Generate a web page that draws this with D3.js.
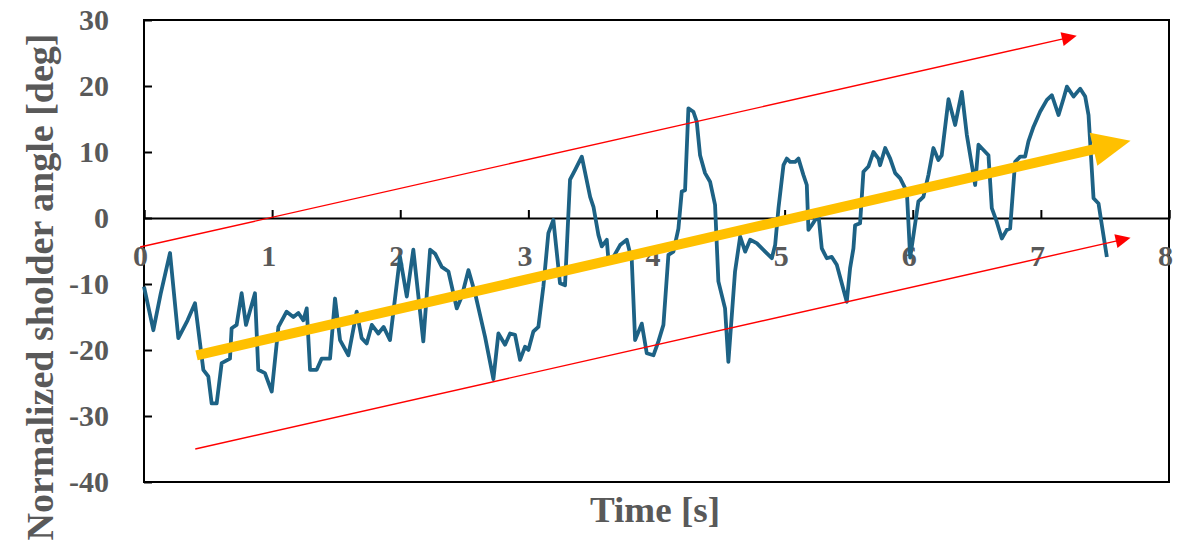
<!DOCTYPE html>
<html>
<head>
<meta charset="utf-8">
<script src="https://cdn.jsdelivr.net/npm/d3@7"></script>
<style>
  html, body { margin: 0; padding: 0; background: #ffffff; }
  svg { display: block; }
</style>
</head>
<body>
<svg id="chart" width="1183" height="545"></svg>
<script>
// ---- data ----
const timeS = [0.000,0.073,0.130,0.203,0.268,0.340,0.398,0.463,0.502,0.528,0.567,0.606,0.671,0.684,0.723,0.762,0.796,0.866,0.892,0.944,0.997,1.049,1.113,1.166,1.205,1.244,1.270,1.296,1.348,1.387,1.452,1.491,1.530,1.595,1.660,1.699,1.738,1.778,1.829,1.870,1.920,1.998,2.051,2.102,2.180,2.233,2.272,2.324,2.376,2.441,2.480,2.532,2.584,2.662,2.727,2.766,2.818,2.857,2.896,2.935,2.974,3.000,3.039,3.078,3.117,3.156,3.195,3.247,3.286,3.325,3.365,3.417,3.482,3.508,3.547,3.573,3.612,3.625,3.664,3.716,3.768,3.807,3.833,3.885,3.924,3.976,4.015,4.054,4.093,4.132,4.171,4.197,4.223,4.249,4.288,4.314,4.340,4.379,4.418,4.457,4.483,4.535,4.561,4.613,4.653,4.692,4.731,4.782,4.848,4.900,4.926,4.952,4.991,5.017,5.043,5.082,5.108,5.147,5.173,5.186,5.212,5.264,5.290,5.329,5.368,5.407,5.485,5.511,5.537,5.550,5.589,5.615,5.654,5.693,5.732,5.745,5.785,5.824,5.863,5.902,5.954,5.980,6.044,6.083,6.122,6.161,6.200,6.226,6.279,6.331,6.383,6.422,6.487,6.513,6.591,6.617,6.656,6.695,6.734,6.760,6.799,6.838,6.877,6.903,6.942,6.994,7.047,7.086,7.138,7.177,7.203,7.255,7.307,7.346,7.372,7.411,7.450,7.476,7.515];
const angleDeg = [-10.4,-17.0,-11.5,-5.3,-18.2,-15.5,-12.9,-23.0,-24.0,-28.1,-28.1,-22.0,-21.3,-16.7,-16.2,-11.4,-16.2,-11.4,-23.0,-23.5,-26.3,-16.5,-14.2,-15.0,-14.4,-15.5,-13.7,-23.0,-23.0,-21.3,-21.3,-12.2,-18.5,-20.8,-14.2,-18.2,-19.0,-16.2,-17.5,-16.5,-18.5,-5.9,-11.9,-4.8,-18.7,-4.8,-5.4,-7.4,-8.1,-13.7,-11.9,-7.9,-11.4,-18.0,-24.4,-17.5,-19.2,-17.5,-17.7,-21.5,-19.5,-20.0,-17.2,-16.5,-10.4,-2.3,-0.3,-9.9,-10.2,5.8,7.3,9.3,3.2,1.7,-2.6,-4.3,-3.3,-6.4,-5.9,-4.1,-3.3,-6.4,-18.5,-16.0,-20.5,-20.8,-18.7,-16.2,-5.6,-5.1,-1.6,4.0,4.2,16.6,16.1,14.6,9.5,6.8,5.5,2.0,-9.6,-13.7,-21.8,-8.1,-2.8,-5.1,-3.3,-3.8,-5.1,-6.1,-4.1,1.5,8.0,9.0,8.5,8.5,9.0,6.5,5.0,-1.8,-1.1,0.5,-4.6,-6.1,-5.9,-7.1,-12.7,-7.6,-4.6,-1.1,-0.8,7.0,7.8,10.0,9.0,8.0,10.6,9.0,6.8,6.0,4.0,-6.0,2.5,3.2,6.5,10.6,8.8,9.5,18.0,14.1,19.1,12.6,5.0,11.1,9.5,1.5,-0.6,-3.1,-1.8,-1.6,8.5,9.3,9.3,11.6,13.8,16.1,17.9,18.6,15.6,18.1,19.9,18.4,19.6,18.4,15.6,3.0,2.2,-1.1,-5.9];
const xTicks = [0,1,2,3,4,5,6,7,8];
const yTicks = [-40,-30,-20,-10,0,10,20,30];
const xTitle = "Time [s]";
const yTitle = "Normalized sholder angle [deg]";
// annotation arrows (data coordinates: [time, angle])
const upperArrow = [[-0.03, -4.4], [7.28, 27.6]];
const lowerArrow = [[0.40, -35.0], [7.70, -3.0]];
const trendArrow = [[0.41, -20.8], [7.70, 11.7]];

// ---- layout ----
const svg = d3.select("#chart");
const L = 144, R = 1169, T = 20, B = 482;
const x = d3.scaleLinear().domain([0, 8]).range([L, R]);
const y = d3.scaleLinear().domain([-40, 30]).range([B, T]);
const textColor = "#595959";
const font = "'Liberation Serif', 'Times New Roman', serif";

// plot frame
svg.append("rect").attr("x", L).attr("y", T).attr("width", R - L).attr("height", B - T)
  .attr("fill", "none").attr("stroke", "#000").attr("stroke-width", 2);

// y axis
const yAxis = svg.append("g").attr("transform", `translate(${L},0)`)
  .call(d3.axisLeft(y).tickValues(yTicks).tickSize(-8).tickPadding(35).tickFormat(d => d));
yAxis.select(".domain").remove();
yAxis.selectAll(".tick line").attr("stroke", "#000").attr("stroke-width", 2);
yAxis.selectAll(".tick text").attr("fill", textColor).attr("font-family", font)
  .attr("font-weight", "bold").attr("font-size", 30);

// x axis at y=0
const xAxis = svg.append("g").attr("transform", `translate(0,${y(0)})`)
  .call(d3.axisBottom(x).tickValues(xTicks).tickSize(-8).tickPadding(27).tickFormat(d => d));
xAxis.select(".domain").attr("stroke", "#000").attr("stroke-width", 2);
xAxis.selectAll(".tick line").attr("stroke", "#000").attr("stroke-width", 2);
xAxis.selectAll(".tick text").attr("fill", textColor).attr("font-family", font)
  .attr("font-weight", "bold").attr("font-size", 30).attr("dx", -4);

// series line
const line = d3.line().x((d, i) => x(timeS[i])).y(d => y(d));
svg.append("path").datum(angleDeg).attr("d", line)
  .attr("fill", "none").attr("stroke", "#1d6285").attr("stroke-width", 3.8)
  .attr("stroke-linejoin", "round");

// arrows
function arrow(pts, color, width, headLen, headHalf) {
  const x0 = x(pts[0][0]), y0 = y(pts[0][1]), x1 = x(pts[1][0]), y1 = y(pts[1][1]);
  const dx = x1 - x0, dy = y1 - y0, len = Math.hypot(dx, dy);
  const ux = dx / len, uy = dy / len, px = -uy, py = ux;
  const bx = x1 - ux * headLen, by = y1 - uy * headLen;
  svg.append("line").attr("x1", x0).attr("y1", y0).attr("x2", bx + ux * 1).attr("y2", by + uy * 1)
    .attr("stroke", color).attr("stroke-width", width);
  svg.append("path")
    .attr("d", `M${x1},${y1}L${bx + px * headHalf},${by + py * headHalf}L${bx - px * headHalf},${by - py * headHalf}Z`)
    .attr("fill", color);
}
arrow(upperArrow, "#ff0000", 1.4, 15, 7);
arrow(lowerArrow, "#ff0000", 1.4, 15, 7);
arrow(trendArrow, "#ffc000", 10, 38, 17);

// titles
svg.append("text").attr("x", 655).attr("y", 522).attr("text-anchor", "middle")
  .attr("fill", textColor).attr("font-family", font).attr("font-weight", "bold")
  .attr("font-size", 36).attr("textLength", 130).attr("lengthAdjust", "spacingAndGlyphs")
  .text(xTitle);
svg.append("text").attr("transform", "translate(53,287) rotate(-90)").attr("text-anchor", "middle")
  .attr("fill", textColor).attr("font-family", font).attr("font-weight", "bold")
  .attr("font-size", 37).attr("textLength", 507).attr("lengthAdjust", "spacingAndGlyphs")
  .text(yTitle);
</script>
</body>
</html>
